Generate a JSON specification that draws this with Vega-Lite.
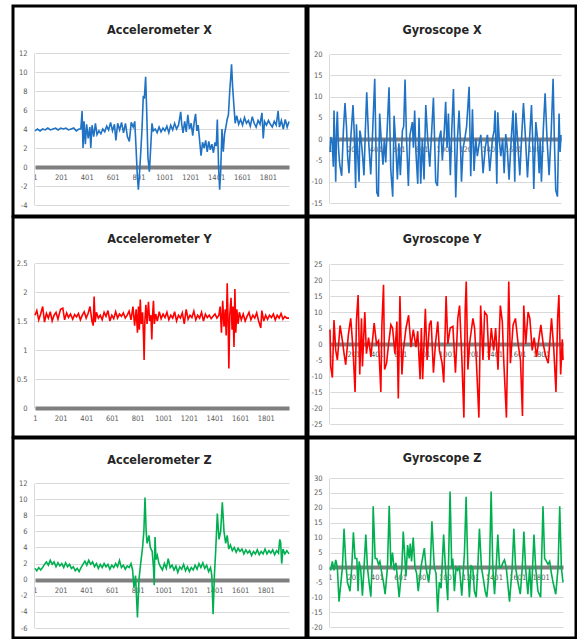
{
"$schema": "https://vega.github.io/schema/vega-lite/v6.json",
"background": "white",
"padding": {"left": 11, "top": 4, "right": 0, "bottom": 0},
"datasets": {
"ax": [{"x":1,"y":3.8},{"x":20,"y":4.0},{"x":40,"y":3.8},{"x":60,"y":4.0},{"x":80,"y":3.9},{"x":100,"y":4.1},{"x":120,"y":3.9},{"x":140,"y":4.0},{"x":160,"y":4.1},{"x":180,"y":3.9},{"x":200,"y":4.1},{"x":220,"y":4.0},{"x":240,"y":4.1},{"x":260,"y":3.9},{"x":280,"y":4.0},{"x":300,"y":4.1},{"x":320,"y":3.8},{"x":340,"y":4.0},{"x":355,"y":4.0},{"x":365,"y":5.9},{"x":372,"y":2.0},{"x":380,"y":4.8},{"x":390,"y":2.4},{"x":400,"y":4.5},{"x":412,"y":3.0},{"x":425,"y":4.2},{"x":432,"y":2.0},{"x":442,"y":4.4},{"x":455,"y":3.2},{"x":468,"y":4.6},{"x":480,"y":3.4},{"x":495,"y":3.8},{"x":510,"y":3.5},{"x":525,"y":4.0},{"x":540,"y":3.7},{"x":555,"y":4.3},{"x":570,"y":3.9},{"x":585,"y":4.7},{"x":600,"y":3.8},{"x":615,"y":4.5},{"x":626,"y":2.8},{"x":640,"y":4.6},{"x":655,"y":3.9},{"x":670,"y":4.7},{"x":685,"y":3.6},{"x":700,"y":4.6},{"x":715,"y":3.2},{"x":730,"y":2.7},{"x":745,"y":4.7},{"x":760,"y":4.2},{"x":772,"y":4.8},{"x":782,"y":2.0},{"x":792,"y":-1.0},{"x":800,"y":-2.4},{"x":808,"y":-0.8},{"x":818,"y":1.5},{"x":828,"y":4.0},{"x":838,"y":7.5},{"x":846,"y":7.2},{"x":856,"y":9.5},{"x":864,"y":6.0},{"x":874,"y":1.0},{"x":885,"y":-0.5},{"x":895,"y":2.0},{"x":905,"y":4.6},{"x":915,"y":3.8},{"x":930,"y":4.0},{"x":945,"y":3.6},{"x":960,"y":4.2},{"x":975,"y":3.7},{"x":990,"y":4.1},{"x":1005,"y":3.8},{"x":1020,"y":4.3},{"x":1035,"y":3.6},{"x":1050,"y":4.4},{"x":1065,"y":3.9},{"x":1080,"y":4.6},{"x":1095,"y":4.0},{"x":1110,"y":4.4},{"x":1120,"y":5.2},{"x":1127,"y":5.8},{"x":1135,"y":4.5},{"x":1145,"y":3.6},{"x":1158,"y":4.8},{"x":1170,"y":3.7},{"x":1182,"y":5.5},{"x":1195,"y":4.0},{"x":1208,"y":4.6},{"x":1220,"y":3.3},{"x":1232,"y":4.8},{"x":1242,"y":5.6},{"x":1252,"y":3.8},{"x":1262,"y":4.4},{"x":1272,"y":3.0},{"x":1284,"y":1.2},{"x":1296,"y":2.6},{"x":1308,"y":2.0},{"x":1320,"y":2.8},{"x":1332,"y":1.6},{"x":1344,"y":2.7},{"x":1356,"y":1.8},{"x":1368,"y":2.4},{"x":1380,"y":1.5},{"x":1392,"y":2.6},{"x":1402,"y":2.2},{"x":1410,"y":5.0},{"x":1420,"y":0.0},{"x":1428,"y":-2.4},{"x":1436,"y":-0.5},{"x":1446,"y":4.0},{"x":1456,"y":1.6},{"x":1466,"y":3.5},{"x":1476,"y":4.2},{"x":1486,"y":5.0},{"x":1496,"y":5.5},{"x":1506,"y":8.0},{"x":1514,"y":9.5},{"x":1520,"y":10.8},{"x":1528,"y":8.5},{"x":1538,"y":6.5},{"x":1548,"y":4.6},{"x":1560,"y":5.4},{"x":1575,"y":4.5},{"x":1590,"y":5.0},{"x":1605,"y":4.4},{"x":1620,"y":5.2},{"x":1635,"y":4.6},{"x":1650,"y":4.9},{"x":1665,"y":4.3},{"x":1680,"y":5.3},{"x":1695,"y":4.6},{"x":1710,"y":4.2},{"x":1725,"y":4.9},{"x":1740,"y":4.5},{"x":1755,"y":5.7},{"x":1765,"y":3.0},{"x":1775,"y":4.8},{"x":1790,"y":4.4},{"x":1805,"y":4.9},{"x":1820,"y":4.5},{"x":1835,"y":4.2},{"x":1850,"y":4.8},{"x":1865,"y":4.4},{"x":1880,"y":5.9},{"x":1890,"y":4.2},{"x":1905,"y":4.9},{"x":1920,"y":4.0},{"x":1935,"y":5.0},{"x":1950,"y":4.2},{"x":1964,"y":4.8}],
"gx": [{"x":1,"y":-3},{"x":7,"y":0.5},{"x":21,"y":-1},{"x":30,"y":-6.5},{"x":36,"y":6.7},{"x":44,"y":-2},{"x":51,"y":-10},{"x":58,"y":2},{"x":65,"y":6.5},{"x":75,"y":-2},{"x":86,"y":-6},{"x":103,"y":-8.6},{"x":118,"y":2},{"x":132,"y":8.5},{"x":145,"y":3},{"x":155,"y":-4},{"x":167,"y":-8},{"x":182,"y":0},{"x":202,"y":8},{"x":212,"y":2},{"x":225,"y":-11.5},{"x":232,"y":3.5},{"x":240,"y":-2},{"x":255,"y":-10},{"x":262,"y":2},{"x":269,"y":1},{"x":283,"y":-3},{"x":298,"y":-8.5},{"x":310,"y":2},{"x":322,"y":11},{"x":340,"y":-1},{"x":357,"y":-8.3},{"x":371,"y":0},{"x":392,"y":14.2},{"x":400,"y":2},{"x":410,"y":-12.5},{"x":424,"y":-13.5},{"x":435,"y":6},{"x":448,"y":0},{"x":464,"y":-6},{"x":476,"y":0},{"x":488,"y":-5.5},{"x":502,"y":3},{"x":517,"y":12.2},{"x":525,"y":2},{"x":532,"y":-7},{"x":549,"y":-13.5},{"x":561,"y":5.5},{"x":575,"y":-1},{"x":590,"y":-9.5},{"x":603,"y":-1},{"x":616,"y":-8.5},{"x":634,"y":2},{"x":645,"y":3},{"x":657,"y":14},{"x":670,"y":0},{"x":686,"y":-11},{"x":700,"y":1},{"x":721,"y":4},{"x":730,"y":-2},{"x":741,"y":6.7},{"x":752,"y":-3},{"x":768,"y":-10.5},{"x":779,"y":5},{"x":794,"y":-10.5},{"x":808,"y":0},{"x":823,"y":-9.5},{"x":838,"y":8},{"x":855,"y":0},{"x":873,"y":-6.5},{"x":890,"y":2},{"x":905,"y":9.7},{"x":915,"y":0},{"x":925,"y":-10},{"x":940,"y":-11},{"x":955,"y":0},{"x":970,"y":2},{"x":983,"y":-5},{"x":1000,"y":2},{"x":1012,"y":8.8},{"x":1024,"y":-2},{"x":1036,"y":6},{"x":1053,"y":-8.5},{"x":1065,"y":2},{"x":1080,"y":11.8},{"x":1090,"y":0},{"x":1100,"y":-13.7},{"x":1115,"y":0},{"x":1129,"y":6.7},{"x":1140,"y":0},{"x":1150,"y":-10},{"x":1165,"y":-2},{"x":1179,"y":0},{"x":1195,"y":3},{"x":1217,"y":12.3},{"x":1231,"y":-8.7},{"x":1246,"y":7},{"x":1260,"y":-7.5},{"x":1275,"y":0},{"x":1289,"y":-4},{"x":1305,"y":-1},{"x":1319,"y":1},{"x":1339,"y":-8},{"x":1358,"y":-2},{"x":1377,"y":1},{"x":1397,"y":-7.5},{"x":1421,"y":0},{"x":1435,"y":2},{"x":1444,"y":6.7},{"x":1459,"y":-10.5},{"x":1467,"y":6.3},{"x":1480,"y":0},{"x":1494,"y":-4},{"x":1510,"y":0},{"x":1523,"y":-8},{"x":1537,"y":1.2},{"x":1550,"y":-2},{"x":1566,"y":-9.5},{"x":1585,"y":0},{"x":1601,"y":6.7},{"x":1616,"y":-10},{"x":1625,"y":6.2},{"x":1640,"y":0},{"x":1660,"y":-8.5},{"x":1675,"y":0},{"x":1692,"y":8.5},{"x":1710,"y":0},{"x":1727,"y":-9},{"x":1745,"y":0},{"x":1762,"y":8},{"x":1772,"y":0},{"x":1782,"y":-11.7},{"x":1800,"y":4},{"x":1815,"y":0},{"x":1829,"y":-8},{"x":1838,"y":0},{"x":1849,"y":-10},{"x":1865,"y":2},{"x":1881,"y":10.8},{"x":1898,"y":0},{"x":1916,"y":-8.5},{"x":1935,"y":2},{"x":1951,"y":14.2},{"x":1962,"y":0},{"x":1974,"y":-12},{"x":1989,"y":-13.5},{"x":2003,"y":6},{"x":2012,"y":-3},{"x":2020,"y":1}],
"ay": [{"x":1,"y":1.6},{"x":15,"y":1.68},{"x":30,"y":1.52},{"x":45,"y":1.62},{"x":61,"y":1.75},{"x":75,"y":1.48},{"x":90,"y":1.63},{"x":105,"y":1.55},{"x":120,"y":1.66},{"x":135,"y":1.5},{"x":150,"y":1.6},{"x":165,"y":1.65},{"x":180,"y":1.53},{"x":200,"y":1.7},{"x":218,"y":1.72},{"x":232,"y":1.52},{"x":248,"y":1.64},{"x":262,"y":1.56},{"x":278,"y":1.62},{"x":295,"y":1.53},{"x":310,"y":1.61},{"x":325,"y":1.57},{"x":340,"y":1.63},{"x":355,"y":1.52},{"x":370,"y":1.6},{"x":385,"y":1.66},{"x":400,"y":1.55},{"x":415,"y":1.63},{"x":430,"y":1.75},{"x":445,"y":1.5},{"x":455,"y":1.42},{"x":462,"y":1.92},{"x":470,"y":1.48},{"x":480,"y":1.65},{"x":495,"y":1.55},{"x":510,"y":1.6},{"x":525,"y":1.52},{"x":540,"y":1.65},{"x":555,"y":1.58},{"x":570,"y":1.68},{"x":585,"y":1.5},{"x":600,"y":1.6},{"x":615,"y":1.54},{"x":630,"y":1.66},{"x":645,"y":1.55},{"x":660,"y":1.62},{"x":675,"y":1.58},{"x":690,"y":1.64},{"x":705,"y":1.55},{"x":720,"y":1.6},{"x":735,"y":1.67},{"x":750,"y":1.52},{"x":765,"y":1.75},{"x":778,"y":1.42},{"x":790,"y":1.7},{"x":800,"y":1.3},{"x":808,"y":1.75},{"x":815,"y":1.35},{"x":822,"y":1.87},{"x":830,"y":1.45},{"x":840,"y":1.65},{"x":848,"y":1.2},{"x":852,"y":0.83},{"x":858,"y":1.5},{"x":866,"y":1.78},{"x":875,"y":1.45},{"x":886,"y":1.83},{"x":895,"y":1.5},{"x":905,"y":1.6},{"x":912,"y":1.18},{"x":918,"y":1.6},{"x":925,"y":1.85},{"x":932,"y":1.45},{"x":942,"y":1.62},{"x":955,"y":1.5},{"x":970,"y":1.66},{"x":985,"y":1.54},{"x":1000,"y":1.62},{"x":1015,"y":1.56},{"x":1030,"y":1.65},{"x":1045,"y":1.52},{"x":1060,"y":1.6},{"x":1075,"y":1.55},{"x":1090,"y":1.66},{"x":1105,"y":1.5},{"x":1120,"y":1.6},{"x":1135,"y":1.55},{"x":1150,"y":1.64},{"x":1165,"y":1.45},{"x":1180,"y":1.7},{"x":1195,"y":1.53},{"x":1210,"y":1.6},{"x":1225,"y":1.56},{"x":1240,"y":1.67},{"x":1255,"y":1.52},{"x":1270,"y":1.6},{"x":1285,"y":1.55},{"x":1300,"y":1.65},{"x":1315,"y":1.5},{"x":1330,"y":1.62},{"x":1345,"y":1.56},{"x":1360,"y":1.6},{"x":1375,"y":1.54},{"x":1390,"y":1.58},{"x":1405,"y":1.62},{"x":1420,"y":1.55},{"x":1435,"y":1.6},{"x":1445,"y":1.75},{"x":1455,"y":1.3},{"x":1465,"y":1.85},{"x":1475,"y":1.4},{"x":1485,"y":1.7},{"x":1492,"y":1.25},{"x":1500,"y":2.15},{"x":1507,"y":1.5},{"x":1513,"y":0.68},{"x":1520,"y":1.6},{"x":1530,"y":1.9},{"x":1538,"y":1.35},{"x":1545,"y":1.75},{"x":1553,"y":1.05},{"x":1560,"y":2.05},{"x":1567,"y":1.3},{"x":1575,"y":1.7},{"x":1585,"y":1.45},{"x":1595,"y":1.65},{"x":1610,"y":1.52},{"x":1625,"y":1.62},{"x":1640,"y":1.5},{"x":1655,"y":1.58},{"x":1670,"y":1.65},{"x":1685,"y":1.52},{"x":1700,"y":1.6},{"x":1715,"y":1.55},{"x":1730,"y":1.64},{"x":1745,"y":1.5},{"x":1762,"y":1.38},{"x":1770,"y":1.68},{"x":1785,"y":1.5},{"x":1800,"y":1.6},{"x":1815,"y":1.53},{"x":1830,"y":1.6},{"x":1845,"y":1.56},{"x":1860,"y":1.62},{"x":1875,"y":1.52},{"x":1890,"y":1.6},{"x":1905,"y":1.55},{"x":1920,"y":1.63},{"x":1935,"y":1.53},{"x":1950,"y":1.58},{"x":1965,"y":1.55},{"x":1982,"y":1.55}],
"gy": [{"x":1,"y":4.5},{"x":7,"y":-7},{"x":21,"y":-10.5},{"x":35,"y":7.5},{"x":50,"y":-2},{"x":64,"y":-5},{"x":87,"y":5.8},{"x":107,"y":1},{"x":121,"y":-3},{"x":135,"y":-6.5},{"x":158,"y":3},{"x":178,"y":8},{"x":198,"y":-2},{"x":215,"y":-15},{"x":227,"y":7.5},{"x":241,"y":15.3},{"x":255,"y":-9.5},{"x":270,"y":8},{"x":278,"y":-7},{"x":298,"y":10},{"x":312,"y":-3},{"x":330,"y":2},{"x":350,"y":-4},{"x":378,"y":6.5},{"x":398,"y":0},{"x":415,"y":1},{"x":435,"y":-15},{"x":444,"y":6},{"x":458,"y":18.5},{"x":467,"y":-8},{"x":484,"y":-6},{"x":501,"y":0},{"x":521,"y":6},{"x":535,"y":5},{"x":555,"y":-3},{"x":572,"y":7},{"x":584,"y":-17},{"x":598,"y":15},{"x":615,"y":-9.5},{"x":627,"y":-2},{"x":650,"y":5},{"x":672,"y":9},{"x":692,"y":-1},{"x":712,"y":4.5},{"x":735,"y":-1},{"x":750,"y":4},{"x":770,"y":-11},{"x":781,"y":5},{"x":792,"y":-11},{"x":815,"y":11},{"x":830,"y":-5},{"x":850,"y":6},{"x":864,"y":7.3},{"x":884,"y":-9},{"x":901,"y":0},{"x":921,"y":7},{"x":935,"y":-2},{"x":958,"y":-6},{"x":972,"y":-12},{"x":992,"y":15},{"x":1007,"y":0},{"x":1027,"y":5},{"x":1050,"y":5.5},{"x":1072,"y":-9},{"x":1092,"y":8},{"x":1107,"y":12},{"x":1127,"y":-5},{"x":1144,"y":-23},{"x":1155,"y":10.5},{"x":1164,"y":19.5},{"x":1178,"y":-8},{"x":1192,"y":0},{"x":1221,"y":8},{"x":1235,"y":5},{"x":1250,"y":-5},{"x":1272,"y":-23},{"x":1287,"y":12},{"x":1307,"y":-5},{"x":1321,"y":10},{"x":1341,"y":9},{"x":1358,"y":-5},{"x":1378,"y":5},{"x":1398,"y":-2},{"x":1415,"y":5},{"x":1435,"y":-8},{"x":1455,"y":12},{"x":1472,"y":7},{"x":1484,"y":-5},{"x":1507,"y":-23},{"x":1527,"y":19.5},{"x":1541,"y":-6},{"x":1564,"y":6},{"x":1584,"y":8},{"x":1607,"y":0},{"x":1627,"y":-5},{"x":1644,"y":-22.5},{"x":1655,"y":12},{"x":1672,"y":0},{"x":1692,"y":10},{"x":1707,"y":8},{"x":1727,"y":-2},{"x":1744,"y":2},{"x":1764,"y":-4},{"x":1801,"y":6},{"x":1821,"y":0},{"x":1844,"y":-4},{"x":1864,"y":-6},{"x":1892,"y":8},{"x":1912,"y":-2},{"x":1930,"y":-15},{"x":1944,"y":8},{"x":1955,"y":15.3},{"x":1970,"y":-9.5},{"x":1984,"y":1.5},{"x":1990,"y":-5}],
"az": [{"x":1,"y":1.4},{"x":15,"y":1.1},{"x":30,"y":1.5},{"x":45,"y":1.2},{"x":60,"y":1.5},{"x":75,"y":1.9},{"x":90,"y":2.2},{"x":105,"y":1.8},{"x":120,"y":2.4},{"x":135,"y":1.9},{"x":150,"y":2.2},{"x":165,"y":1.6},{"x":180,"y":2.1},{"x":195,"y":1.7},{"x":210,"y":2.0},{"x":225,"y":1.5},{"x":240,"y":2.1},{"x":255,"y":1.6},{"x":270,"y":1.9},{"x":285,"y":1.4},{"x":300,"y":1.6},{"x":315,"y":1.1},{"x":330,"y":1.4},{"x":345,"y":1.0},{"x":360,"y":1.5},{"x":375,"y":1.9},{"x":390,"y":2.3},{"x":405,"y":1.8},{"x":420,"y":2.4},{"x":435,"y":1.9},{"x":450,"y":2.2},{"x":465,"y":1.6},{"x":480,"y":2.0},{"x":495,"y":1.4},{"x":510,"y":1.9},{"x":525,"y":1.5},{"x":540,"y":2.0},{"x":555,"y":1.6},{"x":570,"y":1.9},{"x":585,"y":1.3},{"x":600,"y":1.8},{"x":615,"y":1.5},{"x":630,"y":2.0},{"x":645,"y":1.6},{"x":660,"y":2.4},{"x":675,"y":1.5},{"x":690,"y":1.8},{"x":705,"y":1.3},{"x":720,"y":1.7},{"x":735,"y":1.5},{"x":750,"y":2.0},{"x":762,"y":1.2},{"x":773,"y":-1.0},{"x":785,"y":0.5},{"x":800,"y":-4.7},{"x":812,"y":0.0},{"x":825,"y":2.0},{"x":840,"y":4.0},{"x":850,"y":6.0},{"x":859,"y":10.2},{"x":868,"y":6.0},{"x":875,"y":4.5},{"x":890,"y":5.5},{"x":900,"y":4.0},{"x":915,"y":3.5},{"x":925,"y":1.5},{"x":931,"y":-0.7},{"x":937,"y":5.3},{"x":945,"y":2.5},{"x":955,"y":3.0},{"x":968,"y":2.0},{"x":980,"y":1.6},{"x":995,"y":1.2},{"x":1010,"y":2.0},{"x":1025,"y":1.4},{"x":1040,"y":2.6},{"x":1055,"y":1.5},{"x":1070,"y":1.8},{"x":1085,"y":1.2},{"x":1100,"y":1.7},{"x":1115,"y":0.9},{"x":1130,"y":1.6},{"x":1145,"y":1.3},{"x":1160,"y":1.9},{"x":1175,"y":1.1},{"x":1190,"y":1.6},{"x":1205,"y":1.0},{"x":1220,"y":1.5},{"x":1235,"y":1.2},{"x":1250,"y":1.8},{"x":1265,"y":1.3},{"x":1280,"y":2.0},{"x":1295,"y":1.5},{"x":1310,"y":2.1},{"x":1325,"y":1.4},{"x":1340,"y":1.8},{"x":1355,"y":1.0},{"x":1370,"y":1.5},{"x":1380,"y":0.5},{"x":1390,"y":-4.3},{"x":1400,"y":0.5},{"x":1410,"y":3.5},{"x":1423,"y":8.2},{"x":1436,"y":5.0},{"x":1449,"y":6.0},{"x":1462,"y":9.6},{"x":1475,"y":6.0},{"x":1488,"y":4.5},{"x":1500,"y":5.5},{"x":1512,"y":3.8},{"x":1525,"y":4.3},{"x":1540,"y":3.6},{"x":1555,"y":4.0},{"x":1570,"y":3.4},{"x":1585,"y":3.9},{"x":1600,"y":3.5},{"x":1615,"y":3.8},{"x":1630,"y":3.2},{"x":1645,"y":3.7},{"x":1660,"y":3.3},{"x":1675,"y":3.6},{"x":1690,"y":3.0},{"x":1705,"y":3.5},{"x":1720,"y":3.2},{"x":1735,"y":3.7},{"x":1750,"y":3.1},{"x":1765,"y":3.5},{"x":1780,"y":3.2},{"x":1795,"y":3.8},{"x":1810,"y":3.2},{"x":1825,"y":3.6},{"x":1840,"y":3.3},{"x":1855,"y":3.7},{"x":1870,"y":3.1},{"x":1885,"y":3.6},{"x":1900,"y":3.3},{"x":1910,"y":5.0},{"x":1917,"y":4.6},{"x":1925,"y":2.0},{"x":1935,"y":3.8},{"x":1950,"y":3.2},{"x":1965,"y":3.6},{"x":1982,"y":3.2}],
"gz": [{"x":1,"y":0},{"x":7,"y":-1},{"x":21,"y":2},{"x":35,"y":-1},{"x":50,"y":2.5},{"x":64,"y":0},{"x":78,"y":-11.5},{"x":107,"y":0},{"x":121,"y":13},{"x":135,"y":2},{"x":150,"y":-5},{"x":172,"y":-8},{"x":187,"y":0},{"x":201,"y":11.8},{"x":215,"y":3},{"x":230,"y":3},{"x":241,"y":-8},{"x":250,"y":2},{"x":264,"y":-1},{"x":278,"y":-9.5},{"x":292,"y":0},{"x":307,"y":11},{"x":321,"y":0},{"x":335,"y":-5},{"x":350,"y":-9.8},{"x":364,"y":4},{"x":370,"y":20.5},{"x":387,"y":3},{"x":401,"y":3},{"x":415,"y":1},{"x":427,"y":2},{"x":444,"y":-2},{"x":458,"y":-5},{"x":472,"y":-9},{"x":492,"y":0},{"x":507,"y":20.7},{"x":521,"y":0},{"x":535,"y":5},{"x":550,"y":-1},{"x":564,"y":1.5},{"x":578,"y":-4},{"x":592,"y":-10},{"x":615,"y":0},{"x":627,"y":12},{"x":650,"y":-3},{"x":664,"y":7.5},{"x":678,"y":3},{"x":687,"y":8},{"x":698,"y":2},{"x":712,"y":10},{"x":727,"y":0},{"x":741,"y":-2},{"x":755,"y":-8},{"x":778,"y":0},{"x":807,"y":6.5},{"x":821,"y":0},{"x":844,"y":-5},{"x":858,"y":0},{"x":872,"y":15.5},{"x":892,"y":0},{"x":907,"y":-2},{"x":921,"y":-15},{"x":935,"y":-5},{"x":950,"y":-7},{"x":972,"y":11},{"x":987,"y":0},{"x":1007,"y":-11},{"x":1027,"y":25.5},{"x":1041,"y":0},{"x":1050,"y":3},{"x":1064,"y":-8},{"x":1078,"y":0},{"x":1092,"y":-1},{"x":1107,"y":0},{"x":1127,"y":-9.5},{"x":1150,"y":5},{"x":1164,"y":23.7},{"x":1178,"y":1},{"x":1192,"y":-10},{"x":1207,"y":0.5},{"x":1221,"y":0},{"x":1235,"y":-8},{"x":1250,"y":-10},{"x":1264,"y":0},{"x":1278,"y":13},{"x":1295,"y":0},{"x":1312,"y":-4},{"x":1327,"y":-8},{"x":1341,"y":-10},{"x":1364,"y":0},{"x":1378,"y":25.5},{"x":1392,"y":0},{"x":1407,"y":-9},{"x":1421,"y":0},{"x":1435,"y":11},{"x":1450,"y":0},{"x":1464,"y":0},{"x":1478,"y":1.5},{"x":1492,"y":2.5},{"x":1507,"y":0},{"x":1535,"y":-11.5},{"x":1558,"y":0},{"x":1572,"y":13},{"x":1587,"y":0},{"x":1607,"y":-5},{"x":1627,"y":-9},{"x":1644,"y":0},{"x":1658,"y":12},{"x":1672,"y":0},{"x":1692,"y":-9},{"x":1707,"y":0},{"x":1721,"y":-10},{"x":1744,"y":11},{"x":1758,"y":0},{"x":1778,"y":-8},{"x":1801,"y":-10},{"x":1821,"y":20.5},{"x":1835,"y":3},{"x":1850,"y":2},{"x":1864,"y":1},{"x":1878,"y":2},{"x":1893,"y":-2},{"x":1907,"y":-5},{"x":1930,"y":-9},{"x":1950,"y":0},{"x":1964,"y":20.5},{"x":1978,"y":0},{"x":1992,"y":-5}]
},
"columns": 2,
"spacing": {"row": 1, "column": 2},
"bounds": "flush",
"concat": [
 {"width": 293, "height": 210, "data": {"name": "ax"},
  "title": {"text": "Accelerometer X", "offset": -30},
  "mark": {"type": "line", "color": "#1f72c4", "strokeWidth": 1.6},
  "encoding": {
   "x": {"field": "x", "type": "quantitative", "scale": {"domain": [1, 1964], "range": [22, 276], "nice": false, "zero": false},
         "axis": {"title": null, "offset": -49, "values": [1,201,401,601,801,1001,1201,1401,1601,1801]}},
   "y": {"field": "y", "type": "quantitative", "scale": {"domain": [-4, 12], "range": [199, 47], "nice": false, "zero": false},
         "axis": {"title": null, "offset": -21, "values": [-4,-2,0,2,4,6,8,10,12]}}}},
 {"width": 268, "height": 210, "data": {"name": "gx"},
  "title": {"text": "Gyroscope X", "offset": -30},
  "mark": {"type": "line", "color": "#1f72c4", "strokeWidth": 1.6},
  "encoding": {
   "x": {"field": "x", "type": "quantitative", "scale": {"domain": [1, 2020], "range": [22, 253], "nice": false, "zero": false},
         "axis": {"title": null, "offset": -77, "values": [1,201,401,601,801,1001,1201,1401,1601,1801]}},
   "y": {"field": "y", "type": "quantitative", "scale": {"domain": [-15, 20], "range": [197, 48], "nice": false, "zero": false},
         "axis": {"title": null, "offset": -21, "values": [-15,-10,-5,0,5,10,15,20]}}}},
 {"width": 293, "height": 220, "data": {"name": "ay"},
  "title": {"text": "Accelerometer Y", "offset": -28},
  "mark": {"type": "line", "color": "#ff0000", "strokeWidth": 1.6},
  "encoding": {
   "x": {"field": "x", "type": "quantitative", "scale": {"domain": [1, 1982], "range": [22, 276], "nice": false, "zero": false},
         "axis": {"title": null, "offset": -29, "values": [1,201,401,601,801,1001,1201,1401,1601,1801]}},
   "y": {"field": "y", "type": "quantitative", "scale": {"domain": [0, 2.5], "range": [191, 46], "nice": false, "zero": false},
         "axis": {"title": null, "offset": -21, "values": [0,0.5,1,1.5,2,2.5]}}}},
 {"width": 268, "height": 220, "data": {"name": "gy"},
  "title": {"text": "Gyroscope Y", "offset": -28},
  "mark": {"type": "line", "color": "#ff0000", "strokeWidth": 1.6},
  "encoding": {
   "x": {"field": "x", "type": "quantitative", "scale": {"domain": [1, 1990], "range": [22, 255], "nice": false, "zero": false},
         "axis": {"title": null, "offset": -93, "values": [1,201,401,601,801,1001,1201,1401,1601,1801]}},
   "y": {"field": "y", "type": "quantitative", "scale": {"domain": [-25, 25], "range": [207, 47], "nice": false, "zero": false},
         "axis": {"title": null, "offset": -21, "values": [-25,-20,-15,-10,-5,0,5,10,15,20,25]}}}},
 {"width": 293, "height": 200, "data": {"name": "az"},
  "title": {"text": "Accelerometer Z", "offset": -28},
  "mark": {"type": "line", "color": "#00b050", "strokeWidth": 1.6},
  "encoding": {
   "x": {"field": "x", "type": "quantitative", "scale": {"domain": [1, 1982], "range": [22, 276], "nice": false, "zero": false},
         "axis": {"title": null, "offset": -58, "values": [1,201,401,601,801,1001,1201,1401,1601,1801]}},
   "y": {"field": "y", "type": "quantitative", "scale": {"domain": [-6, 12], "range": [190, 45], "nice": false, "zero": false},
         "axis": {"title": null, "offset": -21, "values": [-6,-4,-2,0,2,4,6,8,10,12]}}}},
 {"width": 268, "height": 200, "data": {"name": "gz"},
  "title": {"text": "Gyroscope Z", "offset": -26},
  "mark": {"type": "line", "color": "#00b050", "strokeWidth": 1.6},
  "encoding": {
   "x": {"field": "x", "type": "quantitative", "scale": {"domain": [1, 1992], "range": [22, 255], "nice": false, "zero": false},
         "axis": {"title": null, "offset": -71, "values": [1,201,401,601,801,1001,1201,1401,1601,1801]}},
   "y": {"field": "y", "type": "quantitative", "scale": {"domain": [-20, 30], "range": [189, 40], "nice": false, "zero": false},
         "axis": {"title": null, "offset": -21, "values": [-20,-15,-10,-5,0,5,10,15,20,25,30]}}}}
],
"config": {
 "view": {"stroke": "black", "strokeWidth": 3, "fill": "white"},
 "title": {"font": "Liberation Sans Narrow, DejaVu Sans Condensed, sans-serif", "fontSize": 12.5, "fontWeight": "bold", "color": "#262626", "anchor": "middle", "frame": "group"},
 "axis": {"labelFont": "Liberation Sans Narrow, DejaVu Sans Condensed, sans-serif", "labelFontSize": 7.5, "labelColor": "#595959", "ticks": false, "tickSize": 0, "labelOverlap": false, "labelExpr": "'' + datum.value"},
 "axisX": {"grid": false, "domainColor": "#7f7f7f", "domainWidth": 4, "labelPadding": 6, "labelFlush": false},
 "axisY": {"grid": true, "gridColor": "#d9d9d9", "gridWidth": 1, "domainColor": "#d9d9d9", "labelPadding": 7}
}
}
